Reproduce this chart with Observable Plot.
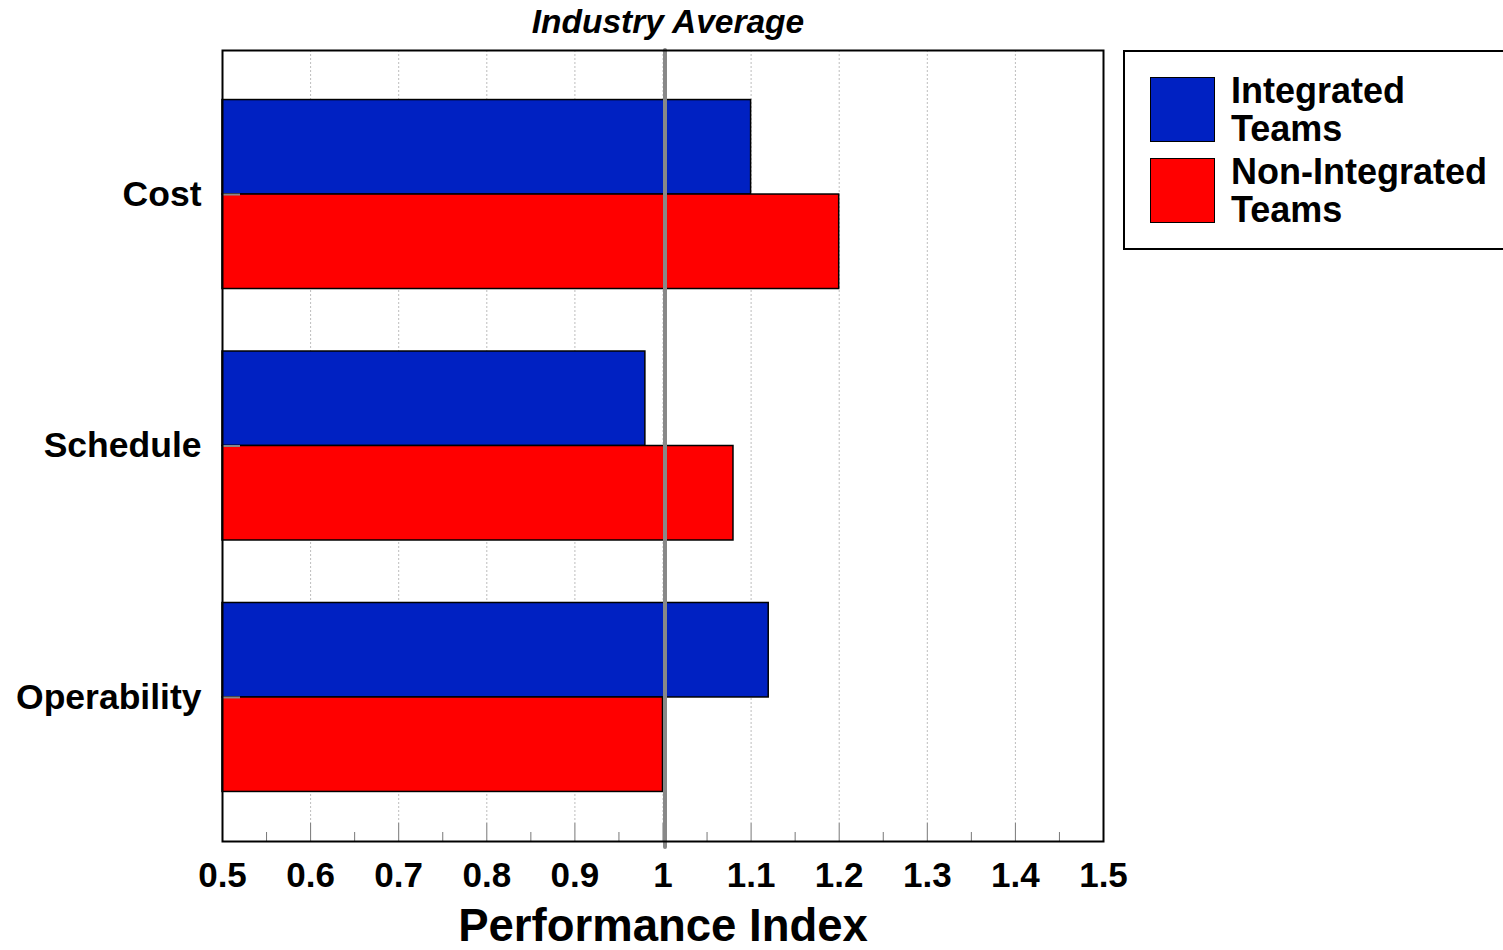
<!DOCTYPE html>
<html>
<head>
<meta charset="utf-8">
<script src="https://cdn.jsdelivr.net/npm/d3@7"></script>
<script src="https://cdn.jsdelivr.net/npm/@observablehq/plot@0.6"></script>
<style>
  body { margin: 0; background: #fff; font-family: Arial, "Liberation Sans", sans-serif; }
  #wrap { position: relative; width: 1503px; height: 950px; overflow: hidden; }
  #legend {
    position: absolute; left: 1123px; top: 50px; width: 420px; height: 200px;
    border: 2px solid #000; box-sizing: border-box; background: #fff;
  }
  .swatch { position: absolute; left: 1150px; width: 65px; height: 65px; box-sizing: border-box; border: 1.5px solid #000; }
  .line { position: absolute; left: 1231px; font-weight: bold; font-size: 36px; line-height: 30px; color: #000; white-space: nowrap; }
</style>
</head>
<body>
<div id="wrap">
  <div id="chart"></div>
  <div id="legend"></div>
</div>
<script>
// Performance index by category, relative to the industry average (1.0)
const categories = ["Cost", "Schedule", "Operability"];
const integrated = [1.10, 0.98, 1.12];
const nonIntegrated = [1.20, 1.08, 1.00];
const seriesNames = ["Integrated Teams", "Non-Integrated Teams"];
const seriesLabels = [["Integrated", "Teams"], ["Non-Integrated", "Teams"]];
const seriesColors = ["#0021C2", "#FF0000"];
const industryAverage = 1;
const baseline = 0.5;
const xTicks = [0.5, 0.6, 0.7, 0.8, 0.9, 1.0, 1.1, 1.2, 1.3, 1.4, 1.5];
const xMinorTicks = [0.55, 0.65, 0.75, 0.85, 0.95, 1.05, 1.15, 1.25, 1.35, 1.45];
const xTickLabels = ["0.5", "0.6", "0.7", "0.8", "0.9", "1", "1.1", "1.2", "1.3", "1.4", "1.5"];

const W = 1503, H = 950;
const M = {top: 50, right: 400, bottom: 109, left: 222};
const plotH = H - M.top - M.bottom;
const padInner = 0.2485, padOuter = 0.197;

// half of a category band: one series above the centre line, one below
const band = d3.scaleBand().domain(categories).range([0, plotH])
  .paddingInner(padInner).paddingOuter(padOuter);
const half = band.bandwidth() / 2;

const rowsA = categories.map((c, i) => ({category: c, series: seriesNames[0], value: integrated[i]}));
const rowsB = categories.map((c, i) => ({category: c, series: seriesNames[1], value: nonIntegrated[i]}));

const chart = Plot.plot({
  width: W, height: H,
  marginTop: M.top, marginRight: M.right, marginBottom: M.bottom, marginLeft: M.left,
  style: {fontFamily: 'Arial, "Liberation Sans", sans-serif', fontWeight: "bold", background: "#fff"},
  x: {domain: [0.5, 1.5], axis: null},
  y: {domain: categories, paddingInner: padInner, paddingOuter: padOuter, round: false, axis: null},
  color: {domain: seriesNames, range: seriesColors},
  marks: [
    // dashed vertical grid
    Plot.ruleX(xTicks.slice(1, -1), {x: d => d, stroke: "#bdbdbd", strokeWidth: 1, strokeDasharray: "2,2", insetBottom: 18}),
    // inward major and minor ticks along the bottom edge
    Plot.ruleX(xTicks, {x: d => d, stroke: "#777", strokeWidth: 1, insetTop: plotH - 18}),
    Plot.ruleX(xMinorTicks, {x: d => d, stroke: "#777", strokeWidth: 1, insetTop: plotH - 9}),
    // bars
    Plot.barX(rowsA, {y: "category", x1: baseline, x2: "value", fill: "series", stroke: "#000", strokeWidth: 1.5,
      insetTop: 0, insetLeft: 0, insetRight: 0, insetBottom: half}),
    Plot.barX(rowsB, {y: "category", x1: baseline, x2: "value", fill: "series", stroke: "#000", strokeWidth: 1.5,
      insetBottom: 0, insetLeft: 0, insetRight: 0, insetTop: half}),
    // short gray ticks at the category centres
    Plot.tickY(categories, {y: d => d, stroke: "#888", strokeWidth: 2, insetRight: (W - M.left - M.right) - 18}),
    // industry average reference
    Plot.ruleX([industryAverage], {x: d => d, dx: 2, stroke: "#888", strokeWidth: 4, strokeLinecap: "round", insetBottom: -6}),
    Plot.text([industryAverage], {x: d => d, dx: 5, frameAnchor: "top", lineAnchor: "bottom", dy: -18,
      text: () => "Industry Average", fontSize: 33.5, fontStyle: "italic", fill: "#000"}),
    Plot.frame({stroke: "#000", strokeWidth: 2}),
    // axes
    Plot.axisX(xTicks, {x: d => d, anchor: "bottom", tickSize: 0, tickPadding: 21, fontSize: 35,
      tickFormat: (d, i) => xTickLabels[xTicks.indexOf(d)], label: null}),
    Plot.axisY({anchor: "left", tickSize: 0, tickPadding: 21, fontSize: 35.5, label: null}),
    Plot.text(["Performance Index"], {frameAnchor: "bottom", lineAnchor: "bottom", dy: 99, text: d => d,
      fontSize: 45.5, fill: "#000"})
  ]
});
document.getElementById("chart").appendChild(chart);

// legend: swatches and two-line labels
const wrap = document.getElementById("wrap");
const swatchTops = [77, 158];
const lineBaselines = [[103, 141], [184, 222]];
seriesNames.forEach((s, i) => {
  const sw = document.createElement("div");
  sw.className = "swatch";
  sw.style.top = swatchTops[i] + "px";
  sw.style.background = seriesColors[i];
  wrap.appendChild(sw);
  seriesLabels[i].forEach((t, j) => {
    const ln = document.createElement("div");
    ln.className = "line";
    ln.textContent = t;
    ln.style.top = (lineBaselines[i][j] - 27.5) + "px";
    wrap.appendChild(ln);
  });
});
</script>
</body>
</html>
